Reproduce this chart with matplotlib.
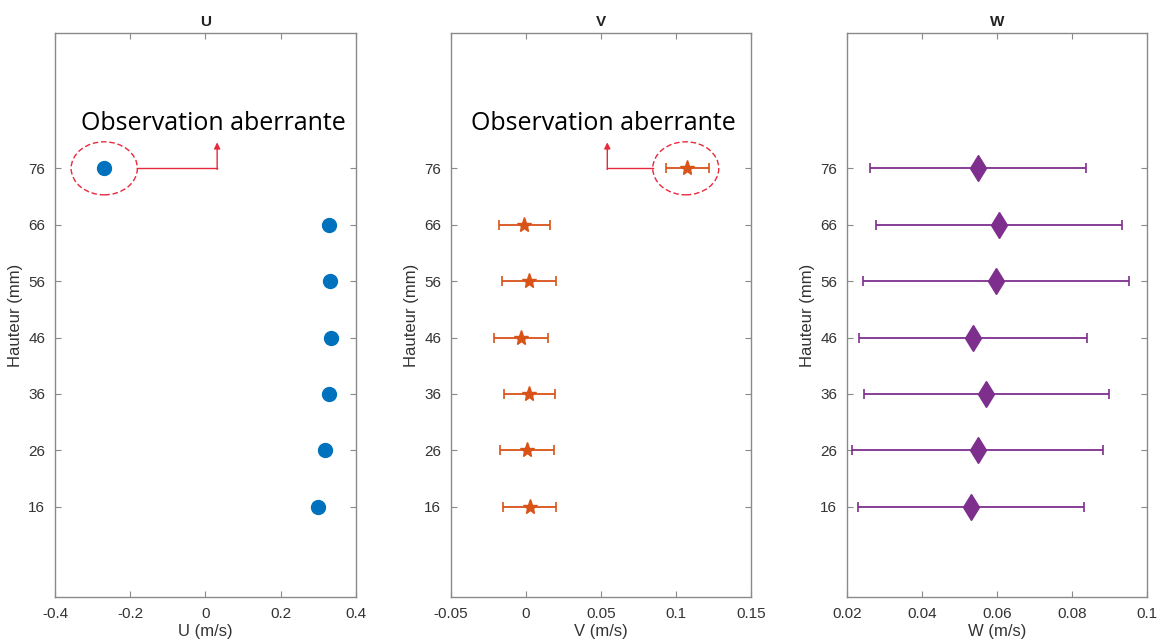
import numpy as np
import matplotlib.pyplot as plt
from matplotlib.patches import Ellipse

plt.rcParams['font.family'] = ['Liberation Sans', 'DejaVu Sans']

# Data
heights = [16, 26, 36, 46, 56, 66, 76]
u_vals = [0.300, 0.318, 0.328, 0.334, 0.332, 0.329, -0.269]
v_vals = [0.0025, 0.0007, 0.0020, -0.0033, 0.0018, -0.0011, 0.1075]
v_err = [0.0178, 0.0180, 0.0170, 0.0180, 0.0180, 0.0168, 0.0145]
w_vals = [0.0530, 0.0548, 0.0571, 0.0536, 0.0598, 0.0605, 0.0550]
w_err = [0.0302, 0.0335, 0.0327, 0.0304, 0.0355, 0.0327, 0.0288]

ytick_vals = [16, 26, 36, 46, 56, 66, 76]

blue = '#0072BD'
orange = '#D95319'
purple = '#7E2F8E'
red = '#E8283C'
axcol = '#8a8a8a'

fig = plt.figure(figsize=(11.57, 6.41), dpi=100)
ax1 = fig.add_axes([0.0475, 0.0686, 0.2602, 0.880])
ax2 = fig.add_axes([0.3898, 0.0686, 0.2593, 0.880])
ax3 = fig.add_axes([0.7321, 0.0686, 0.2593, 0.880])


def style(ax, title, xlabel, xlim, xticks, xticklabels):
    ax.set_xlim(xlim)
    ax.set_ylim(0, 100)
    ax.set_xticks(xticks)
    ax.set_xticklabels(xticklabels)
    ax.set_yticks(ytick_vals)
    ax.set_title(title, fontsize=11, fontweight='bold', color='#222222', pad=5)
    ax.set_xlabel(xlabel, fontsize=12, color='#333333', labelpad=2)
    ax.set_ylabel('Hauteur (mm)', fontsize=12, color='#333333', labelpad=4)
    ax.tick_params(direction='in', top=True, right=True, length=4,
                   color=axcol, labelsize=11, labelcolor='#333333', pad=7)
    for s in ax.spines.values():
        s.set_color(axcol)
        s.set_linewidth(1.0)


# U panel
ax1.plot(u_vals, heights, 'o', color=blue, markersize=10, linestyle='none')
style(ax1, 'U', 'U (m/s)', (-0.4, 0.4), [-0.4, -0.2, 0, 0.2, 0.4],
      ['-0.4', '-0.2', '0', '0.2', '0.4'])
ax1.add_patch(Ellipse((u_vals[-1], heights[-1]), 0.176, 9.4, fill=False,
                      edgecolor=red, linestyle=(0, (4, 2)), linewidth=1))
ax1.plot([u_vals[-1] + 0.088, 0.031], [76, 76], color=red, lw=1)
ax1.annotate('', xy=(0.031, 80.6), xytext=(0.031, 75.8),
             arrowprops=dict(arrowstyle='-|>', color=red, lw=1,
                             mutation_scale=9, shrinkA=0, shrinkB=0))
ax1.text(0.02, 84.0, 'Observation aberrante', ha='center', va='center',
         fontsize=18, family='Open Sans', color='black')

# V panel
ax2.errorbar(v_vals, heights, xerr=v_err, fmt='*', color=orange,
             markersize=11, capsize=3.5, elinewidth=1.3, capthick=1.2)
style(ax2, 'V', 'V (m/s)', (-0.05, 0.15), [-0.05, 0, 0.05, 0.1, 0.15],
      ['-0.05', '0', '0.05', '0.1', '0.15'])
ax2.add_patch(Ellipse((0.1065, 76), 0.044, 9.4, fill=False,
                      edgecolor=red, linestyle=(0, (4, 2)), linewidth=1))
ax2.plot([0.1065 - 0.022, 0.0542], [76, 76], color=red, lw=1)
ax2.annotate('', xy=(0.0542, 80.6), xytext=(0.0542, 75.8),
             arrowprops=dict(arrowstyle='-|>', color=red, lw=1,
                             mutation_scale=9, shrinkA=0, shrinkB=0))
ax2.text(0.0515, 84.0, 'Observation aberrante', ha='center', va='center',
         fontsize=18, family='Open Sans', color='black')

# W panel
ax3.errorbar(w_vals, heights, xerr=w_err, fmt='d', color=purple,
             markersize=13, capsize=3.5, elinewidth=1.3, capthick=1.2)
style(ax3, 'W', 'W (m/s)', (0.02, 0.1), [0.02, 0.04, 0.06, 0.08, 0.1],
      ['0.02', '0.04', '0.06', '0.08', '0.1'])

fig.savefig('out.png', dpi=100)
